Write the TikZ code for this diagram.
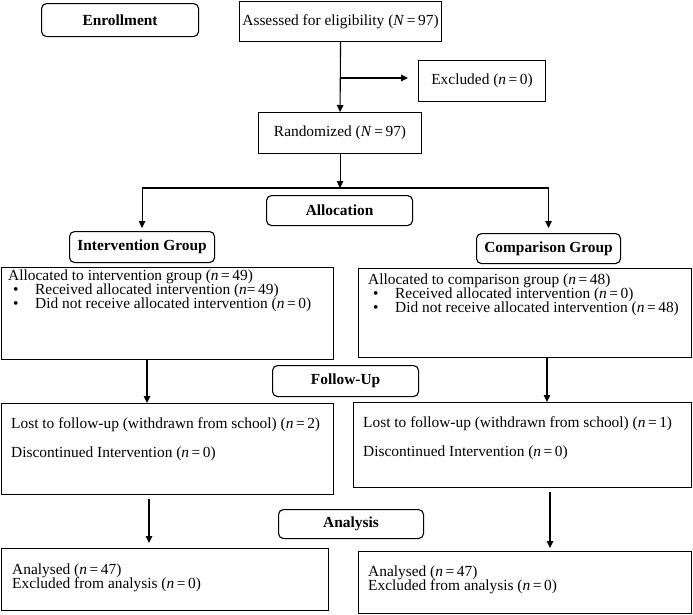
\documentclass[tikz,border=0pt]{standalone}
\usepackage{fontspec}
\setmainfont{Liberation Serif}
\usetikzlibrary{arrows.meta}
\newcommand\dfont{\fontsize{15.4}{14}\selectfont\lineskiplimit=-100pt\relax}
\begin{document}
\begin{tikzpicture}[x=1pt,y=-1pt,
  every node/.style={font=\dfont},
  box/.style={draw,line width=1.1pt,anchor=north west,inner sep=0pt},
  rbox/.style={box,rounded corners=5pt,font=\dfont\bfseries},
  txt/.style={anchor=north west,inner sep=0pt,align=left},
  arr/.style={line width=1.1pt,-{Triangle[length=7pt,width=6.5pt]}},
  ln/.style={line width=1.1pt}]
\useasboundingbox (0,0) rectangle (693,614);
% header boxes
\node[rbox,minimum width=157pt,minimum height=33pt] (enr) at (41,3) {Enrollment};
\node[box,minimum width=202pt,minimum height=40.5pt] (assess) at (239,0.6) {Assessed for eligibility (\textit{N}\,=\,97)};
\node[box,minimum width=127pt,minimum height=41pt] (excl) at (418,60) {Excluded (\textit{n}\,=\,0)};
\node[box,minimum width=163pt,minimum height=41pt] (rand) at (258,112) {Randomized (\textit{N}\,=\,97)};
\node[rbox,minimum width=146pt,minimum height=30pt] (alloc) at (266,195) {Allocation};
\node[rbox,minimum width=145pt,minimum height=31pt] (igrp) at (69,231) {Intervention Group};
\node[rbox,minimum width=144pt,minimum height=30pt] (cgrp) at (476,233) {Comparison Group};
\node[rbox,minimum width=146pt,minimum height=31pt] (fu) at (272,365) {Follow-Up};
\node[rbox,minimum width=145pt,minimum height=29pt] (an) at (278,509) {Analysis};
% content boxes
\node[box,minimum width=332pt,minimum height=92pt] (ibox) at (1,267) {};
\node[box,minimum width=333pt,minimum height=89pt] (cbox) at (358,268) {};
\node[box,minimum width=332pt,minimum height=91pt] (fu1) at (1,403) {};
\node[box,minimum width=338pt,minimum height=85pt] (fu2) at (353,402) {};
\node[box,minimum width=327pt,minimum height=62pt] (an1) at (1,548) {};
\node[box,minimum width=333pt,minimum height=62pt] (an2) at (358,551) {};
% texts
\node[txt] (itxt) at ([xshift=7pt,yshift=-3pt]ibox.north west) {Allocated to intervention group (\textit{n}\,=\,49)\\
\hspace*{5pt}\makebox[22pt][l]{\textbullet}Received allocated intervention (\textit{n}=\,49)\\
\hspace*{5pt}\makebox[22pt][l]{\textbullet}Did not receive allocated intervention (\textit{n}\,=\,0)};
\node[txt] (ctxt) at ([xshift=10pt,yshift=-6pt]cbox.north west) {Allocated to comparison group (\textit{n}\,=\,48)\\
\hspace*{5pt}\makebox[22pt][l]{\textbullet}Received allocated intervention (\textit{n}\,=\,0)\\
\hspace*{5pt}\makebox[22pt][l]{\textbullet}Did not receive allocated intervention (\textit{n}\,=\,48)};
\node[txt] (f1txt) at ([xshift=10pt,yshift=-14pt]fu1.north west) {Lost to follow-up (withdrawn from school) (\textit{n}\,=\,2)\\[15pt]
Discontinued Intervention (\textit{n}\,=\,0)};
\node[txt] (f2txt) at ([xshift=10pt,yshift=-14pt]fu2.north west) {Lost to follow-up (withdrawn from school) (\textit{n}\,=\,1)\\[15pt]
Discontinued Intervention (\textit{n}\,=\,0)};
\node[txt] (a1txt) at ([xshift=11pt,yshift=-16pt]an1.north west) {Analysed (\textit{n}\,=\,47)\\
Excluded from analysis (\textit{n}\,=\,0)};
\node[txt] (a2txt) at ([xshift=10pt,yshift=-15pt]an2.north west) {Analysed (\textit{n}\,=\,47)\\
Excluded from analysis (\textit{n}\,=\,0)};
% connectors
\coordinate (exc) at (assess.south |- 0,78);
\coordinate (split) at (rand.south |- 0,188);
\coordinate (sl) at (igrp.north |- split);
\coordinate (sr) at (cgrp.north |- split);
\draw[arr] (assess.south) -- (rand.north);
\draw[arr,shorten >=10pt] (exc) -- (excl.west |- exc);
\draw[arr] (rand.south) -- (split);
\draw[ln] (sl) -- (sr);
\draw[arr,shorten >=3pt] (sl) -- (igrp.north);
\draw[arr,shorten >=5pt] (sr) -- (cgrp.north);
\draw[arr] ([xshift=146pt]ibox.south west) -- ([xshift=146pt]fu1.north west);
\draw[arr] ([xshift=189pt]cbox.south west) -- ([xshift=194pt]fu2.north west);
\draw[arr,shorten <=4pt,shorten >=5pt] ([xshift=148pt]fu1.south west) -- ([xshift=148pt]an1.north west);
\draw[arr,shorten <=4pt,shorten >=3pt] ([xshift=197pt]fu2.south west) -- ([xshift=192pt]an2.north west);
\end{tikzpicture}
\end{document}
